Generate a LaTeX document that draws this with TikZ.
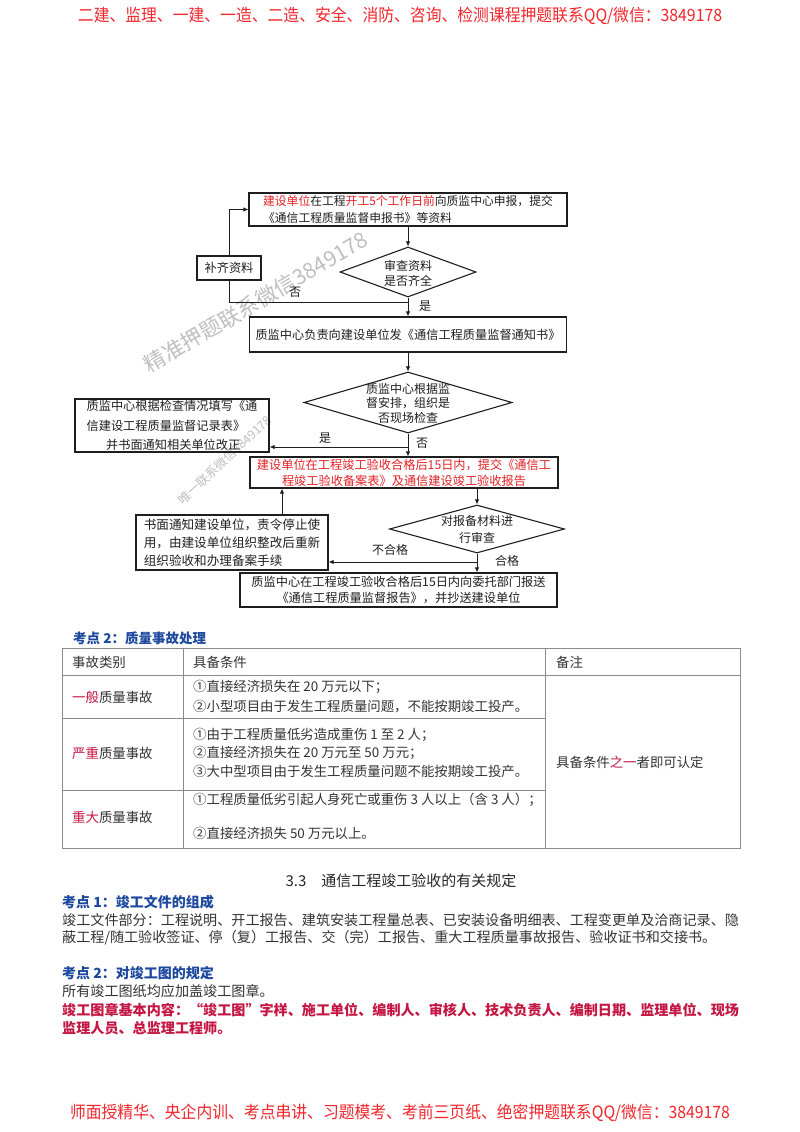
\documentclass[tikz,border=0pt]{standalone}
\usepackage{fontspec}
\setmainfont{Noto Sans CJK SC}
\usetikzlibrary{arrows.meta,shapes.geometric}
\definecolor{hdrred}{RGB}{242,38,45}
\definecolor{fred}{RGB}{228,32,36}
\definecolor{crim}{RGB}{196,22,66}
\definecolor{hblue}{RGB}{28,72,158}
\definecolor{ink}{RGB}{30,30,30}
\begin{document}
\begin{tikzpicture}[x=1pt,y=-1pt,
  fbox/.style={draw=ink, line width=1.1pt, inner sep=0pt, align=center, font=\fontsize{12.2}{16}\selectfont, text=ink},
  dia/.style={draw=ink, line width=1.1pt, diamond, inner sep=0pt},
  dtext/.style={inner sep=0pt, align=center, text=ink},
  arr/.style={line width=0.9pt, draw=ink, -{Latex[length=5pt,width=4.5pt]}},
  ln/.style={line width=0.9pt, draw=ink},
  lbl/.style={font=\fontsize{12}{14}\selectfont, inner sep=0pt, text=ink},
  tl/.style={draw=black!45, line width=0.6pt},
  tt/.style={anchor=west, inner sep=0pt, font=\fontsize{13.4}{15}\selectfont, text=black!80},
  bt/.style={anchor=west, inner sep=0pt, font=\fontsize{14.1}{16}\selectfont, text=black!80},
  kd/.style={anchor=west, inner sep=0pt, font=\fontsize{14}{16}\selectfont\bfseries, text=hblue},
  wm/.style={inner sep=0pt, text=black!25}
]
\useasboundingbox[fill=white] (0,0) rectangle (800,1132);

% header / footer
\node[inner sep=0pt, text=hdrred, font=\fontsize{17}{18}\selectfont] (hdr) at (400,16)
  {\scalebox{0.93}[1]{二建、监理、一建、一造、二造、安全、消防、咨询、检测课程押题联系QQ/微信：3849178}};
\node[inner sep=0pt, text=hdrred, font=\fontsize{17}{18}\selectfont] (ftr) at (400,1113)
  {\scalebox{0.93}[1]{师面授精华、央企内训、考点串讲、习题模考、考前三页纸、绝密押题联系QQ/微信：3849178}};

% watermarks
\node[wm, rotate=30.4, font=\fontsize{21.5}{22}\selectfont] (wm1) at (256,302) {精准押题联系微信3849178};
\node[wm, rotate=43, font=\fontsize{12.4}{13}\selectfont] (wm2) at (225,460) {唯一联系微信3849178};

% flowchart
\node[fbox, align=left, minimum width=318pt, minimum height=33pt, font=\fontsize{11.8}{17}\selectfont] (b1) at (408,209.5)
  {\textcolor{fred}{建设单位}在工程\textcolor{fred}{开工5个工作日前}向质监中心申报，提交\\《通信工程质量监督申报书》等资料};
\node[dia, minimum width=136pt, minimum height=50pt] (d1) at (408,272) {};
\node[dtext, font=\fontsize{12}{15}\selectfont] (d1t) at (408,273) {审查资料\\是否齐全};
\node[fbox, minimum width=64pt, minimum height=24pt] (bq) at (229,268) {补齐资料};
\node[fbox, minimum width=317pt, minimum height=35pt] (b2) at (408,334.5) {质监中心负责向建设单位发《通信工程质量监督通知书》};
\node[dia, minimum width=208pt, minimum height=61pt] (d2) at (408,402.5) {};
\node[dtext, font=\fontsize{12}{14.5}\selectfont] (d2t) at (408,403) {质监中心根据监\\督安排，组织是\\否现场检查};
\node[fbox, align=left, minimum width=194pt, minimum height=53pt, font=\fontsize{12.2}{19.5}\selectfont] (b3) at (172,425.5)
  {质监中心根据检查情况填写《通\\信建设工程质量监督记录表》\\\hspace*{1.6em}并书面通知相关单位改正};
\node[fbox, minimum width=308pt, minimum height=31pt, text=fred] (b4) at (404,472.5)
  {建设单位在工程竣工验收合格后15日内，提交《通信工\\程竣工验收备案表》及通信建设竣工验收报告};
\node[dia, minimum width=175pt, minimum height=48pt] (d3) at (477,529) {};
\node[dtext, font=\fontsize{12}{17}\selectfont] (d3t) at (477,529) {对报备材料进\\行审查};
\node[fbox, align=left, minimum width=192pt, minimum height=55pt, font=\fontsize{12.6}{18}\selectfont] (b5) at (232,542.5)
  {书面通知建设单位，责令停止使\\用，由建设单位组织整改后重新\\组织验收和办理备案手续};
\node[fbox, minimum width=317pt, minimum height=34pt, font=\fontsize{12.2}{15.5}\selectfont] (b6) at (398.5,590)
  {质监中心在工程竣工验收合格后15日内向委托部门报送\\《通信工程质量监督报告》，并抄送建设单位};

\coordinate (j1) at (408,302);
\coordinate (j2) at (408,447);
\coordinate (j3) at (477,562);
\draw[arr] (b1.south) -- (d1.north);
\draw[arr] (d1.south) -- (b2.north);
\draw[ln] (j1) -| (bq.south);
\draw[arr] (bq.north) |- (b1.west);
\draw[arr] (b2.south) -- (d2.north);
\draw[arr] (d2.south) -- (d2.south |- b4.north);
\draw[arr] (j2) -- (b3.east |- j2);
\draw[arr] (d3.north |- b4.south) -- (d3.north);
\draw[arr] (d3.south) -- (d3.south |- b6.north);
\draw[arr] (j3) -- (b5.east |- j3);
\draw[arr] ([xshift=50pt]b5.north) -- ([xshift=50pt]b5.north |- b4.south);

\node[lbl] (l1) at (295,292) {否};
\node[lbl] (l2) at (425,306) {是};
\node[lbl] (l3) at (325,438) {是};
\node[lbl] (l4) at (422,443) {否};
\node[lbl] (l5) at (390,550) {不合格};
\node[lbl] (l6) at (507,561) {合格};

% table
\node[kd, font=\fontsize{13.5}{15}\selectfont\bfseries] (k2) at (73,638) {考点 2：质量事故处理};
\draw[tl] (62,648) rectangle (740,848);
\draw[tl] (62,675) -- (740,675);
\draw[tl] (62,718) -- (545,718);
\draw[tl] (62,790) -- (545,790);
\draw[tl] (183,648) -- (183,848);
\draw[tl] (545,648) -- (545,848);
\node[tt] (h1) at (72,662) {事故类别};
\node[tt] (h2) at (193,662) {具备条件};
\node[tt] (h3) at (556,662) {备注};
\node[tt] (r1) at (72,697) {\textcolor{crim}{一般}质量事故};
\node[tt] (r1a) at (193,687) {①直接经济损失在 20 万元以下；};
\node[tt] (r1b) at (193,707) {②小型项目由于发生工程质量问题，不能按期竣工投产。};
\node[tt] (r2) at (72,753) {\textcolor{crim}{严重}质量事故};
\node[tt] (r2a) at (193,735) {①由于工程质量低劣造成重伤 1 至 2 人；};
\node[tt] (r2b) at (193,753) {②直接经济损失在 20 万元至 50 万元；};
\node[tt] (r2c) at (193,771) {③大中型项目由于发生工程质量问题不能按期竣工投产。};
\node[tt] (r3) at (72,817) {\textcolor{crim}{重大}质量事故};
\node[tt] (r3a) at (193,800) {①工程质量低劣引起人身死亡或重伤 3 人以上（含 3 人）；};
\node[tt] (r3b) at (193,833) {②直接经济损失 50 万元以上。};
\node[tt] (n1) at (556,762) {具备条件\textcolor{crim}{之一}者即可认定};

% section 3.3
\node[inner sep=0pt, font=\fontsize{15}{17}\selectfont, text=black!85] (sec) at (401,881) {3.3\quad 通信工程竣工验收的有关规定};
\node[kd] (k1b) at (62,902) {考点 1：竣工文件的组成};
\node[bt] (p1) at (62,920) {竣工文件部分：工程说明、开工报告、建筑安装工程量总表、已安装设备明细表、工程变更单及洽商记录、隐};
\node[bt] (p2) at (62,938) {蔽工程/随工验收签证、停（复）工报告、交（完）工报告、重大工程质量事故报告、验收证书和交接书。};
\node[kd] (k2b) at (62,973) {考点 2：对竣工图的规定};
\node[bt] (p3) at (62,991) {所有竣工图纸均应加盖竣工图章。};
\node[bt, font=\fontsize{14.1}{16}\selectfont\bfseries, text=crim] (p4) at (62,1010) {竣工图章基本内容：“竣工图”字样、施工单位、编制人、审核人、技术负责人、编制日期、监理单位、现场};
\node[bt, font=\fontsize{14.1}{16}\selectfont\bfseries, text=crim] (p5) at (62,1028) {监理人员、总监理工程师。};
\end{tikzpicture}
\end{document}
